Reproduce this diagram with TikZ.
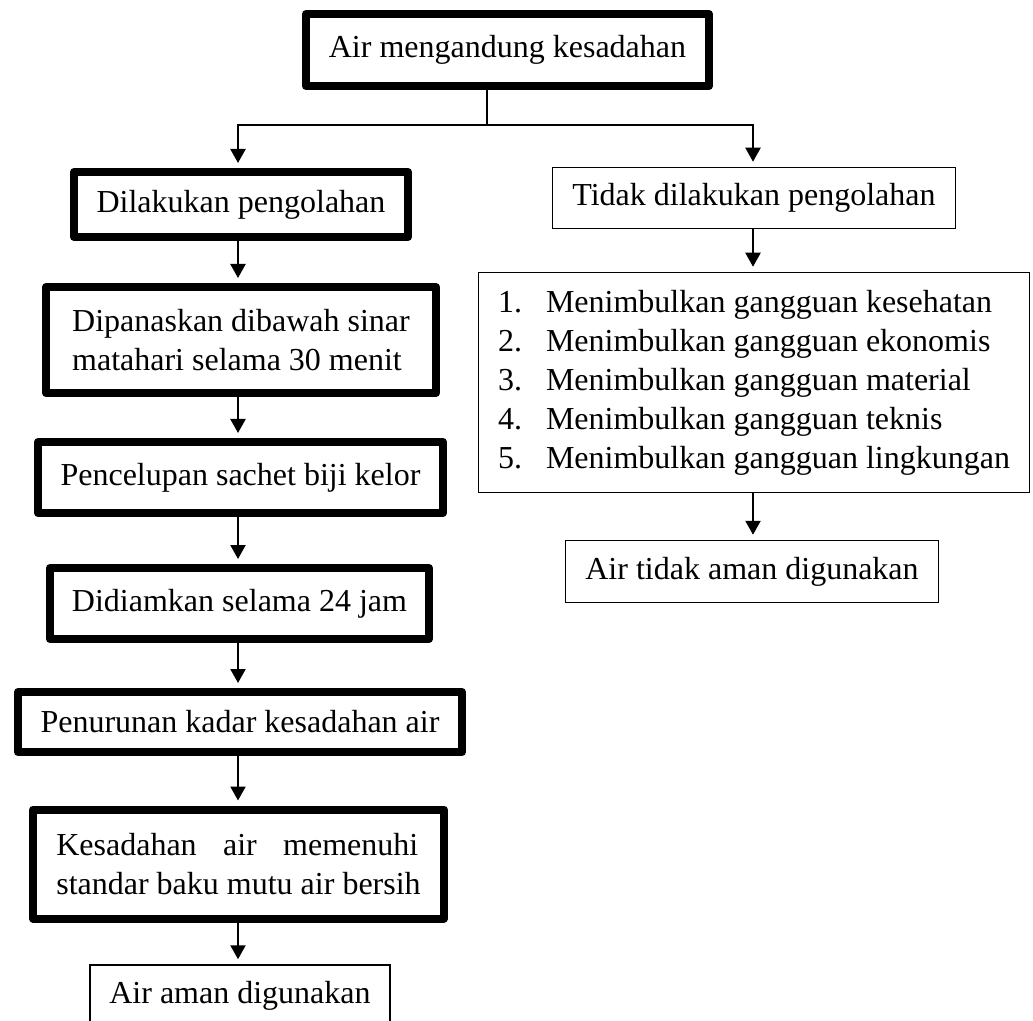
\documentclass[tikz,border=0pt]{standalone}
\usepackage{fontspec}
\setmainfont{Liberation Serif}
\usetikzlibrary{arrows.meta}
\begin{document}
\begin{tikzpicture}[x=0.5pt,y=-0.5pt,
  basebox/.style={draw, inner sep=0pt, font=\fontsize{16}{19.5}\selectfont},
  thickbox/.style={basebox, line width=4pt, line join=round},
  thinbox/.style={basebox, line width=0.75pt},
  conn/.style={line width=1pt},
  arr/.style={line width=1.1pt, -{Triangle[width=7.5pt,length=7pt]}, shorten >=2.5pt}]
\useasboundingbox (0,0) rectangle (1033,1021);
\clip (0,0) rectangle (1033,1021);

% left column
\node[thickbox, minimum width=201.5pt, minimum height=36pt] (top) at (507.5,50) {Air mengandung kesadahan};
\node[thickbox, minimum width=167pt, minimum height=32.5pt] (dil) at (241,204.5) {Dilakukan pengolahan};
\node[thickbox, minimum width=195pt, minimum height=53pt, align=left] (dip) at (241,340)
  {Dipanaskan dibawah sinar\\matahari selama 30 menit};
\node[thickbox, minimum width=202.5pt, minimum height=35.5pt] (pen) at (240.5,477.5) {Pencelupan sachet biji kelor};
\node[thickbox, minimum width=189.5pt, minimum height=35.5pt] (did) at (239.5,603.5) {Didiamkan selama 24 jam};
\node[thickbox, minimum width=222pt, minimum height=30pt] (tur) at (240,722) {Penurunan kadar kesadahan air};
\node[thickbox, minimum width=205.5pt, minimum height=54.5pt, align=left] (kes) at (238.5,864)
  {\hbox to 181pt{Kesadahan\hfill air\hfill memenuhi}\\standar baku mutu air bersih};
\node[thinbox, minimum width=150pt, minimum height=31pt] (aman) at (240,996) {Air aman digunakan};

% right column
\node[thinbox, minimum width=201.5pt, minimum height=30.5pt] (tidak) at (754,198) {Tidak dilakukan pengolahan};
\node[thinbox, minimum width=275.5pt, minimum height=110pt, align=left] (list) at (754,382.5)
  {\makebox[24pt][l]{1.}Menimbulkan gangguan kesehatan\\
   \makebox[24pt][l]{2.}Menimbulkan gangguan ekonomis\\
   \makebox[24pt][l]{3.}Menimbulkan gangguan material\\
   \makebox[24pt][l]{4.}Menimbulkan gangguan teknis\\
   \makebox[24pt][l]{5.}Menimbulkan gangguan lingkungan};
\node[thinbox, minimum width=186.5pt, minimum height=31pt] (tdkaman) at (752,571.5) {Air tidak aman digunakan};

% connectors
\coordinate (split) at (487,125);
\coordinate (lx) at (238,125);
\coordinate (rx) at (753,125);
\draw[conn] (top.south -| split) -- (split);
\draw[arr] (split) -- (lx) -- (dil.north -| lx);
\draw[arr] (split) -- (rx) -- (tidak.north -| rx);

\draw[arr] (dil.south -| lx) -- (dip.north -| lx);
\draw[arr] (dip.south -| lx) -- (pen.north -| lx);
\draw[arr] (pen.south -| lx) -- (did.north -| lx);
\draw[arr] (did.south -| lx) -- (tur.north -| lx);
\draw[arr] (tur.south -| lx) -- (kes.north -| lx);
\draw[arr] (kes.south -| lx) -- (aman.north -| lx);

\draw[arr] (tidak.south -| rx) -- (list.north -| rx);
\draw[arr] (list.south -| rx) -- (tdkaman.north -| rx);
\end{tikzpicture}
\end{document}
